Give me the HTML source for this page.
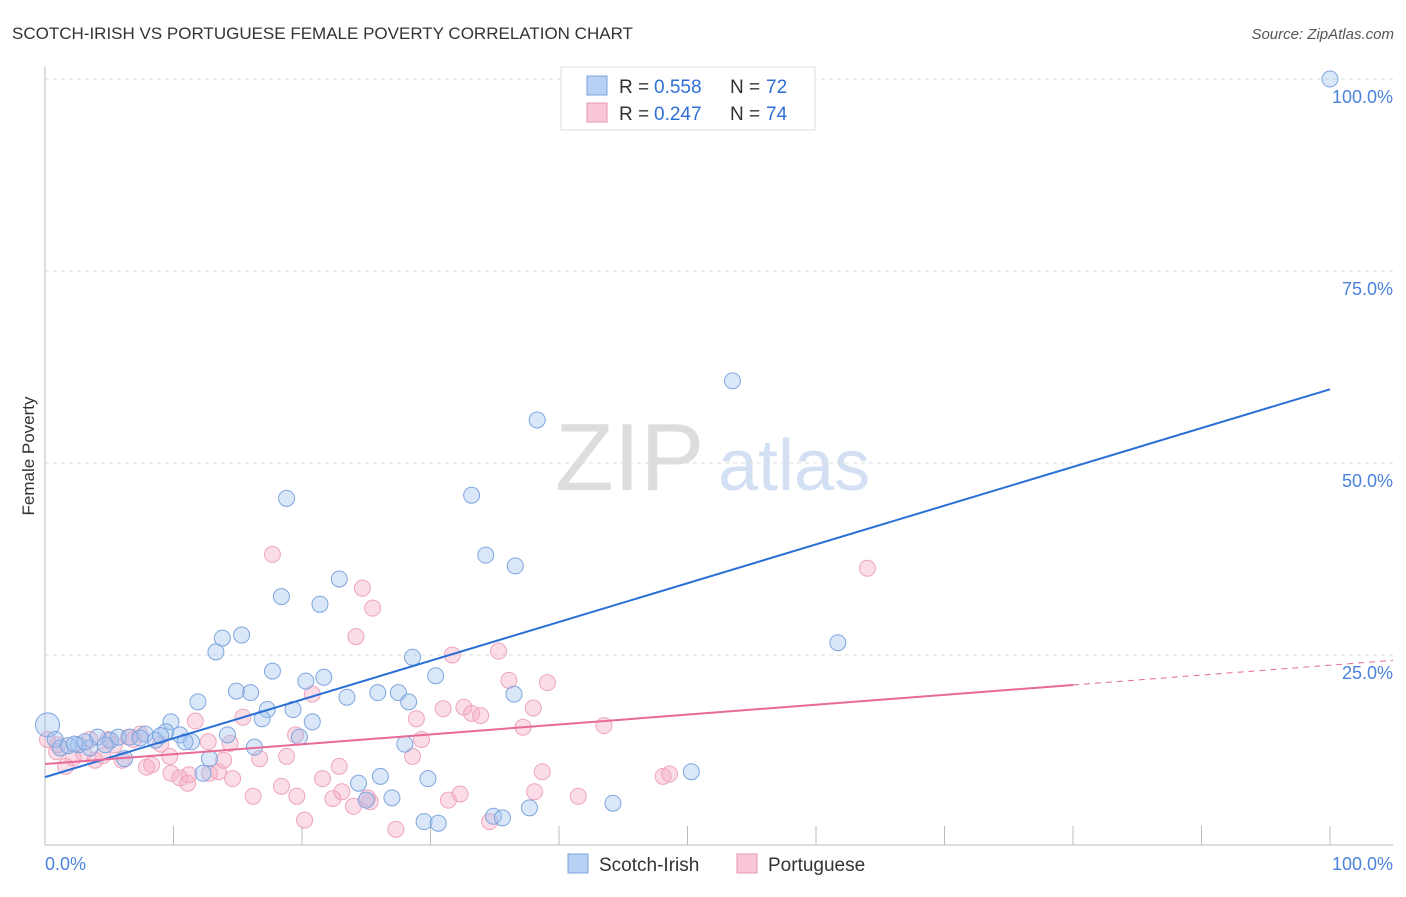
<!DOCTYPE html>
<html><head><meta charset="utf-8"><style>
body{margin:0;background:#fff;font-family:"Liberation Sans",sans-serif}
svg text{font-family:"Liberation Sans",sans-serif}
</style></head><body>
<svg id="c" width="1406" height="892">
<text x="12" y="39" font-size="17" fill="#333">SCOTCH-IRISH VS PORTUGUESE FEMALE POVERTY CORRELATION CHART</text>
<text x="1394" y="39" font-size="15" fill="#555" text-anchor="end" font-style="italic">Source: ZipAtlas.com</text>
<text x="34" y="456" font-size="17" fill="#333" transform="rotate(-90 34 456)" text-anchor="middle">Female Poverty</text>
<text x="555" y="490" font-size="96" fill="#ddd" font-family="Liberation Serif">ZIP</text>
<text x="718" y="490" font-size="72" fill="#d3e0f3">atlas</text>
<g id="grid"></g><g id="pts"></g><g id="lines"></g>
<g>
<rect x="561" y="67" width="254" height="63" fill="#fff" stroke="#ddd"/>
<rect x="587" y="76" width="20" height="19" fill="#b7d0f3" stroke="#7aa3dd"/>
<text x="619" y="93" font-size="19" fill="#333">R =</text>
<text x="654" y="93" font-size="19" fill="#2e6fd6">0.558</text>
<text x="730" y="93" font-size="19" fill="#333">N =</text>
<text x="766" y="93" font-size="19" fill="#2e6fd6">72</text>
<rect x="587" y="103" width="20" height="19" fill="#f9c6d6" stroke="#e89ab3"/>
<text x="619" y="120" font-size="19" fill="#333">R =</text>
<text x="654" y="120" font-size="19" fill="#2e6fd6">0.247</text>
<text x="730" y="120" font-size="19" fill="#333">N =</text>
<text x="766" y="120" font-size="19" fill="#2e6fd6">74</text>
</g>
<g>
<rect x="568" y="854" width="20" height="19" fill="#b7d0f3" stroke="#7aa3dd"/>
<text x="599" y="871" font-size="19" fill="#333">Scotch-Irish</text>
<rect x="737" y="854" width="20" height="19" fill="#f9c6d6" stroke="#e89ab3"/>
<text x="768" y="871" font-size="19" fill="#333">Portuguese</text>
</g>
</svg>
<script>
const yTicks=[25,50,75,100];
const xTickLabels=["0.0%","100.0%"];
const blueX=[100,53.5,38.3,33.2,18.8,34.3,36.6,22.9,18.4,21.4,15.3,13.8,13.3,61.7,17.7,28.6,20.3,21.7,30.4,14.9,16.0,25.9,27.5,28.3,23.5,36.5,11.9,19.3,17.3,16.9,20.8,9.8,7.8,9.4,10.5,11.4,12.8,14.2,16.3,19.8,28.0,26.1,29.8,24.4,27.0,25.0,44.2,37.7,29.5,30.6,34.9,35.6,50.3,12.3,0.2,0.8,1.2,1.8,2.6,3.5,4.1,5.1,5.7,6.6,7.4,8.6,9.0,10.9,6.2,2.3,3.1,4.7];
const blueY=[100,60.7,55.6,45.8,45.4,38.0,36.6,34.9,32.6,31.6,27.6,27.2,25.4,26.6,22.9,24.7,21.6,22.1,22.3,20.3,20.1,20.1,20.1,18.9,19.5,19.9,18.9,17.9,17.9,16.7,16.3,16.3,14.7,15.0,14.6,13.7,11.5,14.6,13.0,14.3,13.4,9.2,8.9,8.3,6.4,6.1,5.7,5.1,3.3,3.1,4.0,3.8,9.8,9.6,15.9,14.0,12.9,13.2,13.3,12.9,14.3,13.9,14.3,14.3,14.2,13.9,14.5,13.7,11.5,13.4,13.7,13.3];
const pinkX=[64.0,17.7,24.7,25.5,24.2,31.7,35.3,36.1,39.1,20.8,32.6,33.2,33.9,30.98,28.9,38.0,37.2,43.5,11.7,15.4,12.7,14.4,19.5,7.4,9.0,9.7,13.5,13.9,16.7,18.8,22.9,28.6,29.3,9.8,10.5,11.1,11.2,12.8,7.9,8.3,6.0,4.5,3.9,3.0,2.2,1.6,0.9,4.9,6.5,6.9,14.6,16.2,18.4,19.6,21.6,22.4,23.1,25.3,24.0,31.4,32.3,38.1,38.7,41.5,48.1,48.6,20.2,27.3,34.6,25.1,0.2,1.0,3.5,5.4];
const pinkY=[36.3,38.1,33.7,31.1,27.4,25.0,25.5,21.7,21.4,19.9,18.2,17.4,17.1,18.0,16.7,18.1,15.6,15.8,16.4,16.9,13.7,13.5,14.6,14.7,13.4,11.8,9.8,11.3,11.5,11.8,10.5,11.8,14.0,9.6,9.0,8.3,9.4,9.6,10.4,10.7,11.3,11.9,11.3,12.2,11.6,10.5,12.4,14.0,14.3,14.0,8.9,6.6,7.9,6.6,8.9,6.3,7.2,5.9,5.3,6.1,6.9,7.2,9.8,6.6,9.2,9.5,3.5,2.3,3.3,6.4,14.0,13.3,14.0,13.3];
const blueFit=[9.1,59.6], pinkFit=[10.8,21.1], pinkSolidEnd=80;
const X=v=>45+v*12.85, Y=v=>847-v*7.68;
const NS="http://www.w3.org/2000/svg";
function mk(t,a,p){const e=document.createElementNS(NS,t);for(const k in a)e.setAttribute(k,a[k]);p.appendChild(e);return e;}
const g=document.getElementById('grid');
const ax=mk('line',{x1:45,y1:67,x2:45,y2:845,stroke:'#bbb'},g);


const bx=mk('line',{x1:45,y1:845,x2:1393,y2:845,stroke:'#bbb'},g);


yTicks.forEach(t=>{
 const l=mk('line',{x1:45,x2:1393,y1:Y(t),y2:Y(t),stroke:'#ddd','stroke-dasharray':'4,4'},g);
 
 
 const tx=mk('text',{x:1393,y:Y(t)+24,'font-size':18,fill:'#4a82dc','text-anchor':'end'},g);
 tx.textContent=t.toFixed(1)+'%';
 
 
});
for(let i=1;i<=10;i++){const l=mk('line',{x1:45+i*128.5,x2:45+i*128.5,y1:826,y2:845,stroke:'#bbb'},g);
 
 }
[[45,'start'],[1393,'end']].forEach((p,i)=>{const t=mk('text',{x:p[0],y:870,'font-size':18,fill:'#4a82dc','text-anchor':p[1]},g);t.textContent=xTickLabels[i];
 
 });
const P=document.getElementById('pts');
pinkX.forEach((x,i)=>{const c=mk('circle',{cx:X(x),cy:Y(pinkY[i]),r:8,fill:'rgba(246,170,195,0.4)',stroke:'#eea5bd','stroke-width':1},P);
 
 });
blueX.forEach((x,i)=>{const c=mk('circle',{cx:X(x),cy:Y(blueY[i]),r:i==54?12:8,fill:'rgba(160,195,240,0.4)',stroke:'#7ea6de','stroke-width':1},P);
 
 });
const L=document.getElementById('lines');
const b=mk('line',{x1:X(0),y1:Y(blueFit[0]),x2:X(100),y2:Y(blueFit[1]),stroke:'#2a6fd6','stroke-width':2},L);


const pf=v=>pinkFit[0]+(pinkFit[1]-pinkFit[0])*v/pinkSolidEnd;
const p1=mk('line',{x1:X(0),y1:Y(pf(0)),x2:X(pinkSolidEnd),y2:Y(pf(pinkSolidEnd)),stroke:'#e86a98','stroke-width':2},L);


const p2=mk('line',{x1:X(pinkSolidEnd),y1:Y(pf(pinkSolidEnd)),x2:1393,y2:Y(pf((1393-45)/12.85)),stroke:'#e86a98','stroke-width':1,'stroke-dasharray':'6,5'},L);


</script>
</body></html>
